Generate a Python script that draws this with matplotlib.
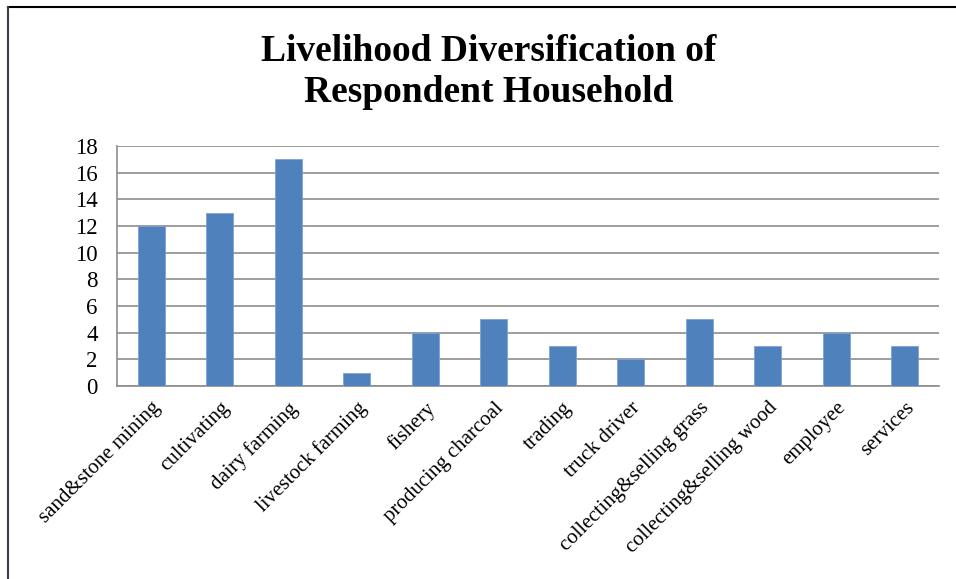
import matplotlib.pyplot as plt
from matplotlib.lines import Line2D

categories = ["sand&stone mining", "cultivating", "dairy farming", "livestock farming",
              "fishery", "producing charcoal", "trading", "truck driver",
              "collecting&selling grass", "collecting&selling wood", "employee", "services"]
values = [12, 13, 17, 1, 4, 5, 3, 2, 5, 3, 4, 3]
yticks = list(range(0, 20, 2))

plt.rcParams['font.family'] = ['Liberation Serif', 'DejaVu Serif']

fig = plt.figure(figsize=(9.56, 5.79), dpi=100)
ax = fig.add_axes([117 / 956, 1 - 386 / 579, (939 - 117) / 956, (386 - 146) / 579])

x = list(range(len(categories)))
ax.bar(x, values, width=0.4, color='#4f81bd', edgecolor='#7aa3d6', linewidth=0.6, zorder=3)
ax.set_xlim(-0.5, len(categories) - 0.5)
ax.set_ylim(0, 18)
ax.set_yticks(yticks)
ax.set_yticklabels([str(t) for t in yticks], fontsize=16.5)
ax.yaxis.grid(True, color='#8c8c8c', linewidth=1.2, zorder=0)
ax.set_xticks(x)
ax.set_xticklabels(categories, rotation=45, ha='right', rotation_mode='anchor', fontsize=15)
ax.tick_params(axis='both', length=0)
ax.tick_params(axis='y', pad=14)
ax.tick_params(axis='x', pad=9)
for s in ['top', 'right']:
    ax.spines[s].set_visible(False)
for s in ['left', 'bottom']:
    ax.spines[s].set_color('#8c8c8c')
    ax.spines[s].set_linewidth(1.2)

fig.text(489 / 956, 1 - 72 / 579, "Livelihood Diversification of\nRespondent Household",
         ha='center', va='center', fontsize=27, fontweight='bold', linespacing=1.22)

# outer frame: top and left edges
fig.add_artist(Line2D([8 / 956, 1], [1 - 7 / 579, 1 - 7 / 579], transform=fig.transFigure,
                      color='black', linewidth=1.5))
fig.add_artist(Line2D([8 / 956, 8 / 956], [0, 1 - 7 / 579], transform=fig.transFigure,
                      color='#3a3f4a', linewidth=1.5))

fig.savefig('out.png', dpi=100)
